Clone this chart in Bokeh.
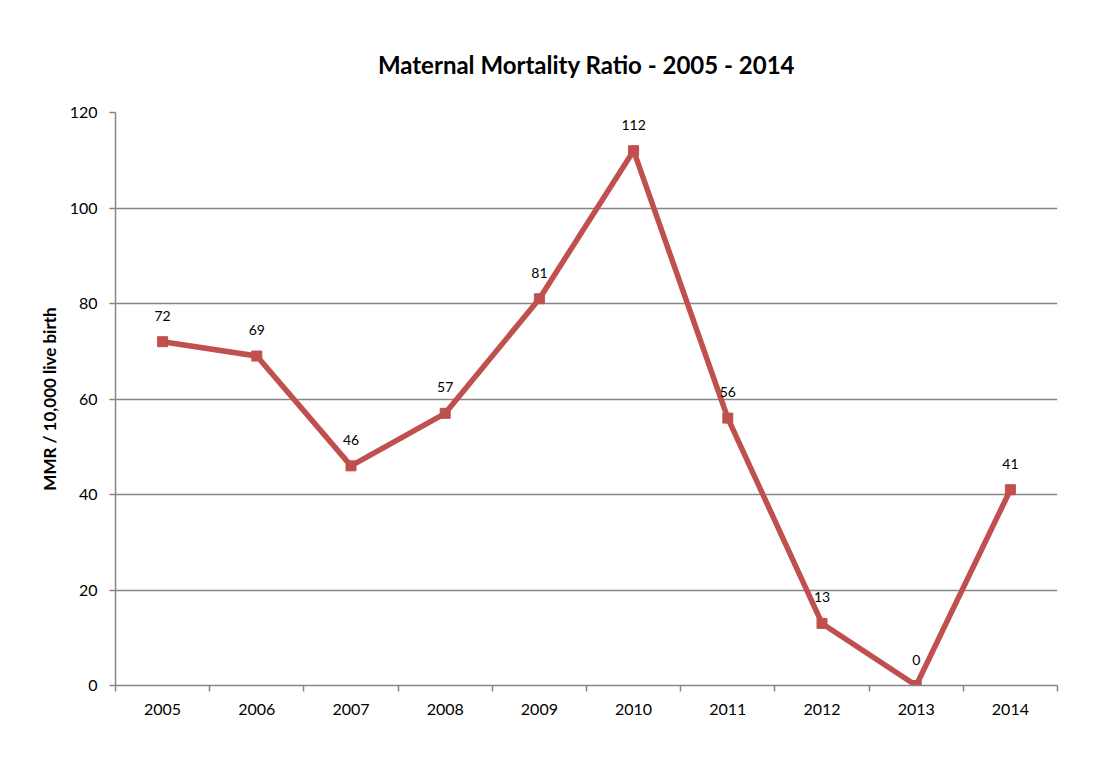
from bokeh.plotting import figure
from bokeh.models import ColumnDataSource, FixedTicker, Range1d, LabelSet
from bokeh.core.properties import value
from bokeh.embed import file_html
from bokeh.resources import INLINE

years = ["2005", "2006", "2007", "2008", "2009", "2010", "2011", "2012", "2013", "2014"]
mmr = [72, 69, 46, 57, 81, 112, 56, 13, 0, 41]
y_ticks = [0, 20, 40, 60, 80, 100, 120]

FONT = "Lato"
RED = "#C0504D"
GRAY = "#868686"

xs = list(range(len(years)))
src = ColumnDataSource(dict(x=xs, y=mmr, lab=[str(v) for v in mmr]))

p = figure(width=1095, height=755, output_backend="svg", toolbar_location=None,
           x_range=Range1d(-0.5, len(years) - 0.5), y_range=Range1d(0, 120),
           min_border_left=115, min_border_right=38, min_border_top=112, min_border_bottom=70)

p.title.text = "Maternal Mortality Ratio - 2005 - 2014"
p.title.align = "center"
p.title.text_font = FONT
p.title.text_font_size = "24px"
p.title.text_font_style = "bold"
p.title.text_color = "#000000"
p.title.standoff = 68

p.outline_line_color = None
p.background_fill_color = "white"
p.border_fill_color = "white"

# x axis
p.xaxis.ticker = FixedTicker(ticks=xs, minor_ticks=[i - 0.5 for i in range(len(years) + 1)])
p.xaxis.major_label_overrides = {i: y for i, y in enumerate(years)}
p.xaxis.major_tick_out = 0
p.xaxis.major_tick_in = 0
p.xaxis.minor_tick_out = 6
p.xaxis.minor_tick_in = 0
p.xaxis.minor_tick_line_color = GRAY
p.xaxis.minor_tick_line_width = 1.5
p.xaxis.axis_line_color = GRAY
p.xaxis.axis_line_width = 1.5
p.xaxis.major_label_text_font = FONT
p.xaxis.major_label_text_font_size = "16px"
p.xaxis.major_label_text_color = "#000000"
p.xaxis.major_label_standoff = 12

# y axis
p.yaxis.ticker = FixedTicker(ticks=y_ticks)
p.yaxis.major_tick_out = 6
p.yaxis.major_tick_in = 0
p.yaxis.minor_tick_line_color = None
p.yaxis.major_tick_line_color = GRAY
p.yaxis.major_tick_line_width = 1.5
p.yaxis.axis_line_color = GRAY
p.yaxis.axis_line_width = 1.5
p.yaxis.major_label_text_font = FONT
p.yaxis.major_label_text_font_size = "16px"
p.yaxis.major_label_text_color = "#000000"
p.yaxis.major_label_standoff = 12
p.yaxis.axis_label = "MMR / 10,000 live birth"
p.yaxis.axis_label_text_font = FONT
p.yaxis.axis_label_text_font_size = "17px"
p.yaxis.axis_label_text_font_style = "bold"
p.yaxis.axis_label_text_color = "#000000"
p.yaxis.axis_label_standoff = 7

p.xgrid.grid_line_color = None
p.ygrid.ticker = FixedTicker(ticks=y_ticks)
p.ygrid.grid_line_color = GRAY
p.ygrid.grid_line_width = 1.5

p.line("x", "y", source=src, line_color=RED, line_width=5.5)
p.scatter("x", "y", source=src, marker="square", size=10, fill_color=RED, line_color=RED)

labels = LabelSet(x="x", y="y", text="lab", source=src, text_align="center",
                  text_baseline="bottom", y_offset=21, text_font=value(FONT),
                  text_font_size="14px", text_color="#000000")
p.add_layout(labels)

open("out.html", "w").write(file_html(p, INLINE))
